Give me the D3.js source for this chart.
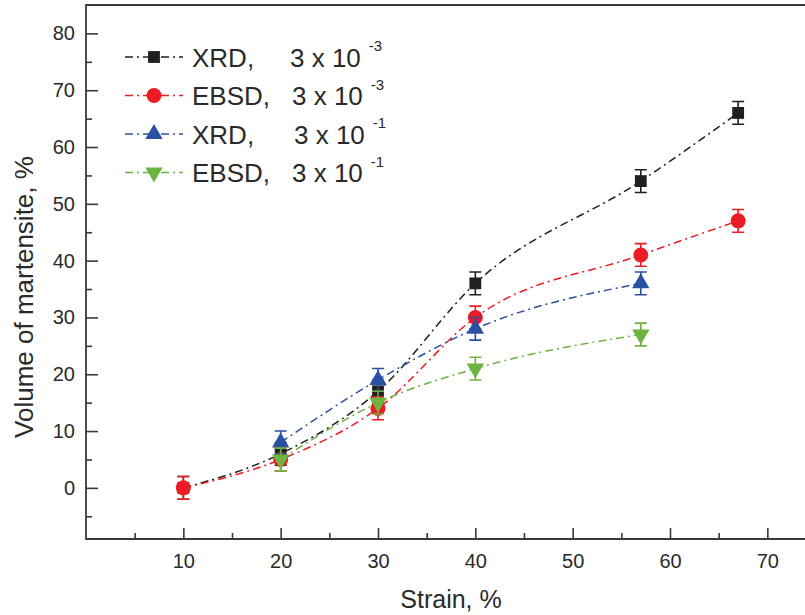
<!DOCTYPE html>
<html>
<head>
<meta charset="utf-8">
<script src="https://cdn.jsdelivr.net/npm/d3@7"></script>
<style>
  html, body { margin: 0; padding: 0; background: #fff; }
  svg { display: block; }
  text { font-family: Arial, "Liberation Sans", Helvetica, sans-serif; fill: #2a2a2a; }
</style>
</head>
<body>
<svg id="chart" width="805" height="615"></svg>
<script>
// Strain levels (%) at which martensite was measured
const strainSlow = [10, 20, 30, 40, 57, 67];
const strainFast = [20, 30, 40, 57];

// Volume of martensite (%) per method and strain rate
const xrdSlow  = [0, 6, 17, 36, 54, 66];
const ebsdSlow = [0, 5, 14, 30, 41, 47];
const xrdFast  = [8, 19, 28, 36];
const ebsdFast = [5, 15, 21, 27];

// Error bar half-widths (%)
const errXrdSlow  = [2, 2, 2, 2, 2, 2];
const errEbsdSlow = [2, 2, 2, 2, 2, 2];
const errXrdFast  = [2, 2, 2, 2];
const errEbsdFast = [2, 2, 2, 2];

// Legend labels
const methods   = ["XRD,", "EBSD,", "XRD,", "EBSD,"];
const rateBase  = ["3 x 10", "3 x 10", "3 x 10", "3 x 10"];
const rateExp   = ["-3", "-3", "-1", "-1"];

// Axis ticks
const xMajor = [10, 20, 30, 40, 50, 60, 70];
const xMinor = [5, 15, 25, 35, 45, 55, 65, 75];
const yMajor = [0, 10, 20, 30, 40, 50, 60, 70, 80];
const yMinor = [-5, 5, 15, 25, 35, 45, 55, 65, 75];

const colors  = ["#231f20", "#ed1c24", "#2b4fa3", "#6db33f"];
const symbols = ["square", "circle", "up", "down"];

const series = [
  { x: strainSlow, y: xrdSlow,  e: errXrdSlow },
  { x: strainSlow, y: ebsdSlow, e: errEbsdSlow },
  { x: strainFast, y: xrdFast,  e: errXrdFast },
  { x: strainFast, y: ebsdFast, e: errEbsdFast }
].map((s, i) => ({
  color: colors[i],
  symbol: symbols[i],
  points: s.x.map((v, j) => ({ x: v, y: s.y[j], e: s.e[j] }))
}));

const svg = d3.select("#chart");
const x = d3.scaleLinear([0, 75], [86, 816]);
const y = d3.scaleLinear([-9, 85], [539, 5]);

const frame = "#3a3a3a";

// Plot frame (left, bottom, top)
svg.append("path")
  .attr("d", `M${x(75)},${y(85)}H${x(0)}V${y(-9)}H${x(75)}`)
  .attr("fill", "none").attr("stroke", frame).attr("stroke-width", 1.8);

// X axis: inward ticks
const gx = svg.append("g").attr("transform", `translate(0,${y(-9)})`);
gx.call(d3.axisBottom(x).tickValues(xMajor).tickSize(-11).tickPadding(15).tickFormat(d3.format("d")));
const gxm = svg.append("g").attr("transform", `translate(0,${y(-9)})`);
gxm.call(d3.axisBottom(x).tickValues(xMinor).tickSize(-6).tickFormat(""));

// Y axis: inward ticks
const gy = svg.append("g").attr("transform", `translate(${x(0)},0)`);
gy.call(d3.axisLeft(y).tickValues(yMajor).tickSize(-12).tickPadding(11).tickFormat(d3.format("d")));
const gym = svg.append("g").attr("transform", `translate(${x(0)},0)`);
gym.call(d3.axisLeft(y).tickValues(yMinor).tickSize(-6).tickFormat(""));

[gx, gxm, gy, gym].forEach(g => {
  g.select(".domain").remove();
  g.selectAll(".tick line").attr("stroke", frame).attr("stroke-width", 1.6);
  g.selectAll("text").style("font-size", "20px").attr("fill", "#2a2a2a");
});

// Axis titles
svg.append("text")
  .attr("x", 451).attr("y", 608)
  .attr("text-anchor", "middle")
  .style("font-size", "25px")
  .text("Strain, %");

svg.append("text")
  .attr("transform", "translate(33,297) rotate(-90)")
  .attr("text-anchor", "middle")
  .style("font-size", "26px")
  .text("Volume of martensite, %");

// Marker drawing
function marker(g, type, color, cx, cy) {
  if (type === "circle") {
    g.append("circle").attr("cx", cx).attr("cy", cy).attr("r", 7.5).attr("fill", color);
  } else {
    const sym = type === "square" ? d3.symbolSquare : d3.symbolTriangle;
    const size = type === "square" ? 140 : 130;
    g.append("path")
      .attr("d", d3.symbol(sym, size)())
      .attr("transform", `translate(${cx},${cy})` + (type === "down" ? " rotate(180)" : ""))
      .attr("fill", color);
  }
}

const dash = "8,4,2,4";
const line = d3.line()
  .x(d => x(d.x)).y(d => y(d.y))
  .curve(d3.curveMonotoneX);

series.forEach(s => {
  const g = svg.append("g");
  g.append("path")
    .attr("d", line(s.points))
    .attr("fill", "none")
    .attr("stroke", s.color)
    .attr("stroke-width", 1.5)
    .attr("stroke-dasharray", dash);

  // Error bars
  s.points.forEach(p => {
    const cx = x(p.x), y0 = y(p.y - p.e), y1 = y(p.y + p.e);
    g.append("path")
      .attr("d", `M${cx},${y0}V${y1}M${cx - 6},${y0}H${cx + 6}M${cx - 6},${y1}H${cx + 6}`)
      .attr("stroke", s.color).attr("stroke-width", 1.6).attr("fill", "none");
  });

  s.points.forEach(p => marker(g, s.symbol, s.color, x(p.x), y(p.y)));
});

// Legend
const legendRowY = [57, 95.5, 134, 172.5];
const legendBaseX = [290, 292, 294, 292];
const legend = svg.append("g");
series.forEach((s, i) => {
  const ly = legendRowY[i];
  legend.append("path")
    .attr("d", `M125,${ly}H183`)
    .attr("stroke", s.color).attr("stroke-width", 1.5)
    .attr("stroke-dasharray", dash).attr("fill", "none");
  marker(legend, s.symbol, s.color, 154, ly);
  legend.append("text")
    .attr("x", 192).attr("y", ly + 9.5)
    .style("font-size", "26px")
    .text(methods[i]);
  const base = legend.append("text")
    .attr("x", legendBaseX[i]).attr("y", ly + 9.5)
    .style("font-size", "26px")
    .text(rateBase[i]);
  const w = base.node().getComputedTextLength();
  legend.append("text")
    .attr("x", legendBaseX[i] + w + 8).attr("y", ly - 6)
    .style("font-size", "15px")
    .text(rateExp[i]);
});
</script>
</body>
</html>
